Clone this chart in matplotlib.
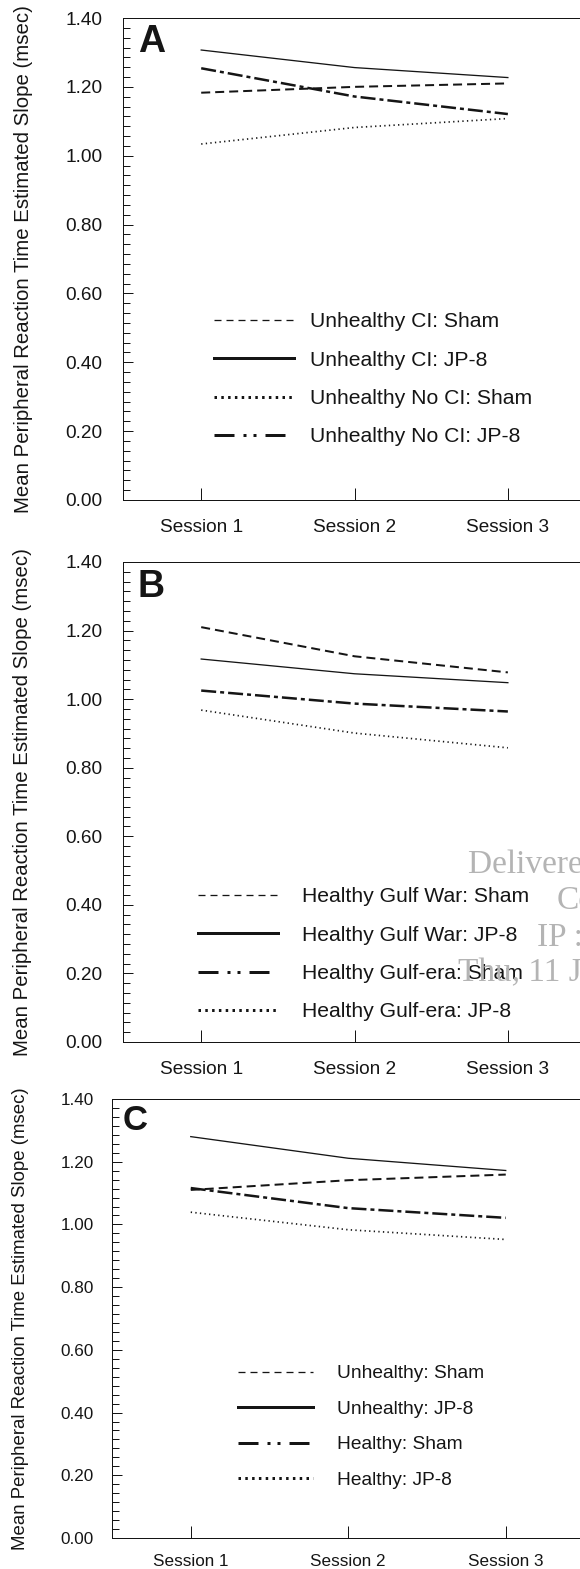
import matplotlib
matplotlib.use('Agg')
import matplotlib.pyplot as plt
from matplotlib.lines import Line2D
from matplotlib.ticker import MultipleLocator, FixedLocator, FormatStrFormatter

plt.rcParams['font.family'] = ['Liberation Sans', 'DejaVu Sans']
plt.rcParams['lines.scale_dashes'] = False

W, H = 580, 1569
PX = 0.72  # points per pixel at dpi 100

# ---------------- data ----------------
sessions = ['Session 1', 'Session 2', 'Session 3']
session_x = [1, 2, 3]
yticks = [0.00, 0.20, 0.40, 0.60, 0.80, 1.00, 1.20, 1.40]
ylabel = 'Mean Peripheral Reaction Time Estimated Slope (msec)'

a_labels = ['Unhealthy CI: Sham', 'Unhealthy CI: JP-8',
            'Unhealthy No CI: Sham', 'Unhealthy No CI: JP-8']
a_ci_sham = [1.183, 1.200, 1.210]
a_ci_jp8 = [1.307, 1.256, 1.227]
a_noci_sham = [1.034, 1.082, 1.108]
a_noci_jp8 = [1.254, 1.172, 1.121]

b_labels = ['Healthy Gulf War: Sham', 'Healthy Gulf War: JP-8',
            'Healthy Gulf-era: Sham', 'Healthy Gulf-era: JP-8']
b_gw_sham = [1.210, 1.125, 1.078]
b_gw_jp8 = [1.117, 1.074, 1.048]
b_ge_sham = [1.025, 0.987, 0.964]
b_ge_jp8 = [0.968, 0.901, 0.858]

c_labels = ['Unhealthy: Sham', 'Unhealthy: JP-8', 'Healthy: Sham', 'Healthy: JP-8']
c_unh_sham = [1.110, 1.141, 1.159]
c_unh_jp8 = [1.280, 1.211, 1.172]
c_h_sham = [1.116, 1.052, 1.021]
c_h_jp8 = [1.039, 0.983, 0.952]

INK = '#151515'

# plot line styles
def st_dashed():
    return dict(color=INK, lw=2.0 * PX, dashes=(9 * PX, 5 * PX))
def st_solid():
    return dict(color=INK, lw=1.3 * PX, linestyle='-')
def st_dotted():
    return dict(color=INK, lw=1.7 * PX, dashes=(1.3 * PX, 3.3 * PX))
def st_dashdot():
    return dict(color=INK, lw=2.5 * PX, dashes=(15 * PX, 4 * PX, 4 * PX, 4 * PX))

# legend handle styles
def lg_dashed():
    return Line2D([], [], color=INK, lw=1.3 * PX, dashes=(7 * PX, 5 * PX))
def lg_solid():
    return Line2D([], [], color=INK, lw=3.0 * PX, linestyle='-')
def lg_dotted():
    return Line2D([], [], color=INK, lw=3.0 * PX, dashes=(2.5 * PX, 4.3 * PX))
def lg_dashdotdot():
    return Line2D([], [], color=INK, lw=3.0 * PX,
                  dashes=(20 * PX, 9 * PX, 3 * PX, 7 * PX, 3 * PX, 9 * PX))

fig = plt.figure(figsize=(W / 100, H / 100), dpi=100)
fig.patch.set_facecolor('white')


def make_axes(left, top, right, bottom):
    return fig.add_axes([left / W, 1 - bottom / H, (right - left) / W, (bottom - top) / H])


def style_axes(ax, xlim, tick_fs, xpad, ypad):
    ax.set_xlim(*xlim)
    ax.set_ylim(0, 1.40)
    ax.set_xticks(session_x)
    ax.set_xticklabels(sessions)
    ax.yaxis.set_major_locator(FixedLocator(yticks))
    ax.yaxis.set_major_formatter(FormatStrFormatter('%.2f'))
    ax.yaxis.set_minor_locator(MultipleLocator(0.2 / 7))
    ax.spines['right'].set_visible(False)
    for s in ['left', 'bottom', 'top']:
        ax.spines[s].set_linewidth(1.0 * PX)
        ax.spines[s].set_color(INK)
    ax.tick_params(axis='x', which='major', direction='in', length=12 * PX,
                   width=1.0 * PX, pad=xpad, labelsize=tick_fs, colors=INK)
    ax.tick_params(axis='x', which='minor', bottom=False)
    ax.tick_params(axis='y', which='major', direction='in', length=10 * PX,
                   width=1.0 * PX, pad=ypad, labelsize=tick_fs, colors=INK)
    ax.tick_params(axis='y', which='minor', direction='in', length=6.5 * PX,
                   width=1.0 * PX, colors=INK)
    ax.patch.set_alpha(0)


def add_legend(ax, handles, labels, x_left, row1_y, fs, hl_px, pad_px, pitch_px):
    fs_px = fs / PX
    text_h = 0.88
    ls = pitch_px / fs_px - text_h
    y_top = row1_y - 0.37 * fs_px
    leg = ax.legend(handles, labels, loc='upper left',
                    bbox_to_anchor=(x_left / W, 1 - y_top / H),
                    bbox_transform=fig.transFigure, frameon=False,
                    fontsize=fs, handlelength=hl_px / fs_px,
                    handletextpad=pad_px / fs_px, labelspacing=ls,
                    borderpad=0, borderaxespad=0)
    for t in leg.get_texts():
        t.set_color(INK)
    return leg


# ---------------- Panel A ----------------
axA = make_axes(123, 18, 123 + 460, 500)
axA.plot(session_x, a_ci_sham, **st_dashed())
axA.plot(session_x, a_ci_jp8, **st_solid())
axA.plot(session_x, a_noci_sham, **st_dotted())
axA.plot(session_x, a_noci_jp8, **st_dashdot())
style_axes(axA, (0.49, 3.49), 13.7, 13.7, 15)
axA.set_ylabel(ylabel, fontsize=14.7, color=INK, va='center')
axA.yaxis.set_label_coords((24 - 123) / 460, 0.5)
add_legend(axA, [lg_dashed(), lg_solid(), lg_dotted(), lg_dashdotdot()], a_labels,
           214, 320, 15.2, 80, 16, 38.0)
fig.text(138 / W, 1 - 24 / H, 'A', fontsize=27, fontweight='bold', color=INK,
         ha='left', va='top')

# ---------------- Panel B ----------------
axB = make_axes(123, 562, 123 + 460, 1042)
axB.plot(session_x, b_gw_sham, **st_dashed())
axB.plot(session_x, b_gw_jp8, **st_solid())
axB.plot(session_x, b_ge_sham, **st_dashdot())
axB.plot(session_x, b_ge_jp8, **st_dotted())
style_axes(axB, (0.49, 3.49), 13.7, 13.7, 15)
axB.set_ylabel(ylabel, fontsize=14.7, color=INK, va='center')
axB.yaxis.set_label_coords((23 - 123) / 460, 0.5)
add_legend(axB, [lg_dashed(), lg_solid(), lg_dashdotdot(), lg_dotted()], b_labels,
           198, 895, 15.2, 80, 24, 38.0)
fig.text(138 / W, 1 - 569 / H, 'B', fontsize=27, fontweight='bold', color=INK,
         ha='left', va='top')

# watermark (publisher delivery stamp, cropped at right edge)
wm = dict(fontsize=24, color='#b4b4b4', family=['Liberation Serif', 'DejaVu Serif'],
          ha='left', va='center')
fig.text(468 / W, 1 - 865 / H, 'Delivered by', **wm)
fig.text(557 / W, 1 - 901 / H, 'Co', **wm)
fig.text(537 / W, 1 - 938 / H, 'IP : ', **wm)
fig.text(458 / W, 1 - 973 / H, 'Thu, 11 Jan', **wm)

# ---------------- Panel C ----------------
axC = make_axes(112, 1099, 112 + 472.5, 1538)
axC.plot(session_x, c_unh_sham, **st_dashed())
axC.plot(session_x, c_unh_jp8, **st_solid())
axC.plot(session_x, c_h_sham, **st_dashdot())
axC.plot(session_x, c_h_jp8, **st_dotted())
style_axes(axC, (0.5, 3.5), 12.3, 11.5, 13)
axC.set_ylabel(ylabel, fontsize=13.4, color=INK, va='center')
axC.yaxis.set_label_coords((21 - 112) / 472.5, 0.5)
add_legend(axC, [lg_dashed(), lg_solid(), lg_dashdotdot(), lg_dotted()], c_labels,
           238, 1372, 13.8, 75, 24, 35)
fig.text(123 / W, 1 - 1104 / H, 'C', fontsize=25, fontweight='bold', color=INK,
         ha='left', va='top')

fig.savefig('out.png', dpi=100, facecolor='white')
